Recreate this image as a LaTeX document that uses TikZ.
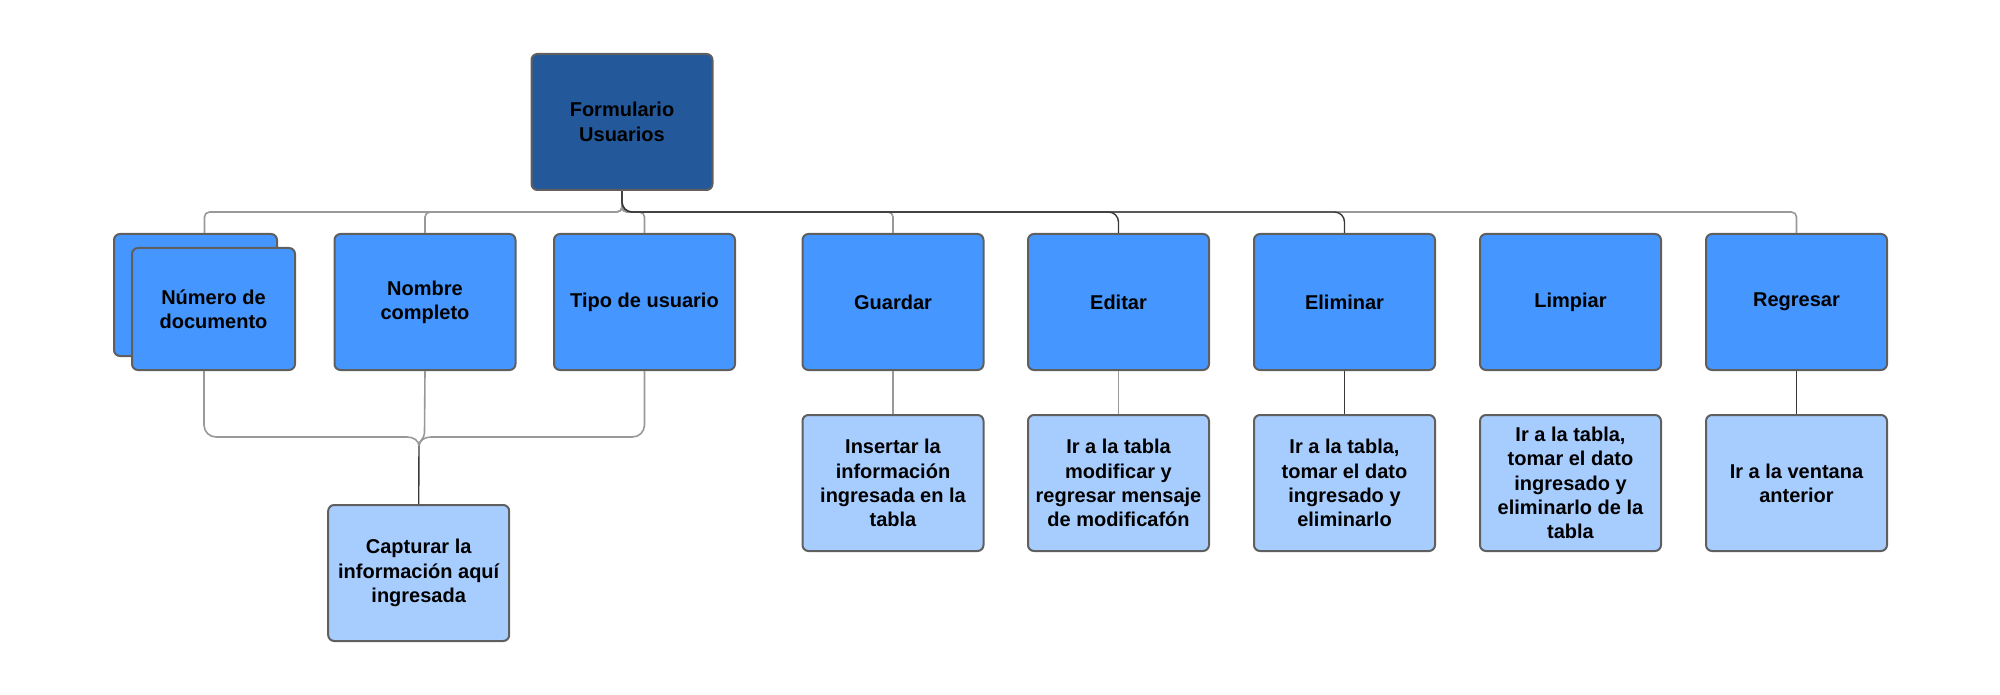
\documentclass[tikz,border=0pt]{standalone}
\usepackage{fontspec}
\setmainfont{Liberation Sans}
\definecolor{rootblue}{HTML}{23589A}
\definecolor{midblue}{HTML}{4596FF}
\definecolor{lightblue}{HTML}{A7CDFF}
\definecolor{boxedge}{HTML}{5F5F5F}
\definecolor{lgray}{HTML}{999999}
\definecolor{dgray}{HTML}{383838}
\tikzset{
  box/.style={draw=boxedge, line width=2pt, rounded corners=6pt, inner sep=0pt,
    minimum width=181pt, minimum height=136pt, align=center, text=black,
    font=\fontsize{20}{24.3}\selectfont\bfseries},
  rootbox/.style={box, fill=rootblue},
  midbox/.style={box, fill=midblue},
  lightbox/.style={box, fill=lightblue},
  smallbox/.style={midbox, minimum width=163pt, minimum height=122pt},
  gline/.style={draw=lgray, line width=1.6pt},
  dline/.style={draw=dgray, line width=1.4pt},
}
\begin{document}
\begin{tikzpicture}[x=1pt,y=-1pt]
\useasboundingbox (0,0) rectangle (2000,695);

\node[rootbox] (root) at (622,122) {Formulario\\Usuarios};

\node[smallbox] (numback) at (195.5,295) {};
\node[smallbox] (numfront) at (213.5,309) {Número de\\documento};
\node[midbox] (nombre) at (425,302) {Nombre\\completo};
\node[midbox] (tipo) at (644.5,302) {Tipo de usuario};
\node[midbox] (guardar) at (893,302) {Guardar};
\node[midbox] (editar) at (1118.5,302) {Editar};
\node[midbox] (eliminar) at (1344.5,302) {Eliminar};
\node[midbox] (limpiar) at (1570.5,302) {Limpiar};
\node[midbox] (regresar) at (1796.5,302) {Regresar};

\node[lightbox] (insertar) at (893,483) {Insertar la\\información\\ingresada en la\\tabla};
\node[lightbox] (modificar) at (1118.5,483) {Ir a la tabla\\modificar y\\regresar mensaje\\de modificafón};
\node[lightbox] (borrar) at (1344.5,483) {Ir a la tabla,\\tomar el dato\\ingresado y\\eliminarlo};
\node[lightbox] (limpiartxt) at (1570.5,483) {Ir a la tabla,\\tomar el dato\\ingresado y\\eliminarlo de la\\tabla};
\node[lightbox] (ventana) at (1796.5,483) {Ir a la ventana\\anterior};

\node[lightbox] (capturar) at (418.7,573) {Capturar la\\información aquí\\ingresada};

% named points
\coordinate (bus) at (622,212);
\coordinate (numtop) at ([xshift=9pt]numback.north);
\coordinate (numbot) at ([xshift=-9.5pt]numfront.south);
\coordinate (jl) at (407,437);
\coordinate (jr) at (431,437);
\coordinate (jn) at (424.5,433);
\coordinate (j) at (419,446);

% top connectors (light gray)
\draw[gline, rounded corners=5pt] (root.south) |- (numtop |- bus) -- (numtop);
\draw[gline, rounded corners=5pt] (root.south) |- (nombre.north |- bus) -- (nombre.north);
\draw[gline, rounded corners=5pt] (root.south) |- (tipo.north |- bus) -- (tipo.north);
\draw[gline, rounded corners=5pt] (root.south) |- (guardar.north |- bus) -- (guardar.north);
\draw[gline, rounded corners=5pt] (root.south) |- (regresar.north |- bus) -- (regresar.north);
% top connectors (dark)
\draw[dline, rounded corners=10pt] (root.south) |- (editar.north |- bus) -- (editar.north);
\draw[dline, rounded corners=10pt] (root.south) |- (eliminar.north |- bus) -- (eliminar.north);

% down connectors
\draw[gline] (guardar) -- (insertar);
\draw[gline] (editar) -- (modificar);
\draw[dline] (eliminar) -- (borrar);
\draw[dline] (regresar) -- (ventana);

% merge into capturar
\draw[gline, rounded corners=12pt] (numbot) |- (jl);
\draw[gline] (jl) to[out=0,in=90] (j);
\draw[gline, rounded corners=12pt] (tipo.south) |- (jr);
\draw[gline] (jr) to[out=180,in=90] (j);
\draw[gline] (nombre.south) -- (jn) to[out=-90,in=90] (j);
\draw[dline] (j) -- (capturar.north);
\end{tikzpicture}
\end{document}
